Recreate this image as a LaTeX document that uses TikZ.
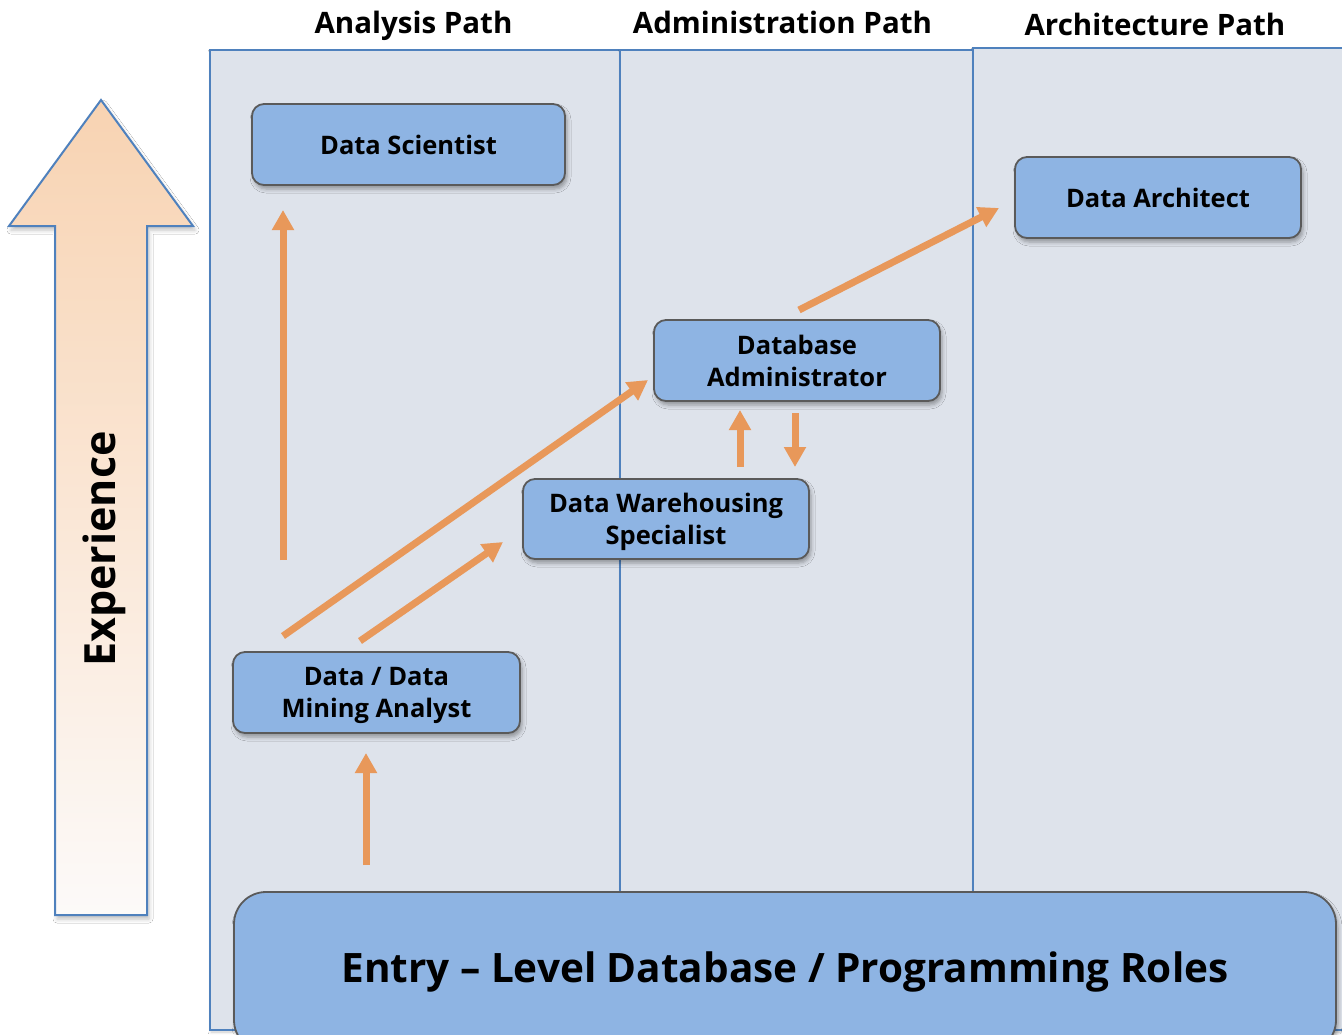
\documentclass[tikz,border=0pt]{standalone}
\usepackage{fontspec}
\setmainfont{Open Sans}
\usetikzlibrary{arrows.meta,shadows.blur}
\definecolor{colfill}{HTML}{DEE3EB}
\definecolor{colline}{HTML}{4F81BD}
\definecolor{boxfill}{HTML}{8EB4E3}
\definecolor{boxline}{HTML}{5A5A5A}
\definecolor{arrorange}{HTML}{E8985A}
\definecolor{peachtop}{HTML}{F8D3B2}
\definecolor{peachmid}{HTML}{E8C7AB}
\definecolor{peachbot}{HTML}{FCFAF9}
\begin{document}
\begin{tikzpicture}[x=1pt,y=-1pt,
  lane/.style={draw=colline,line width=1.6pt,fill=colfill,
    blur shadow={shadow xshift=1pt,shadow yshift=-2pt,shadow blur radius=3pt,shadow opacity=20}},
  role/.style={draw=boxline,line width=1.8pt,fill=boxfill,rounded corners=12pt,
    align=center,inner sep=0pt,
    font=\fontsize{25.5}{32}\selectfont\bfseries,
    blur shadow={shadow xshift=2pt,shadow yshift=-4pt,shadow blur radius=4pt,shadow opacity=35}},
  head/.style={font=\fontsize{29.5}{34}\selectfont\bfseries,anchor=base,inner sep=0pt},
  arr/.style={draw=arrorange,line width=7pt,-{Triangle[width=21pt,length=20pt]}}]
\useasboundingbox (0,0) rectangle (1342,1034);
\fill[white] (0,0) rectangle (1342,1034);

% lanes
\draw[lane] (210,50) rectangle (620,1030);
\draw[lane] (620,50) rectangle (973,1030);
\draw[lane] (973,48) rectangle (1360,1030);

% headings
\node[head] (h1) at (413.5,33) {Analysis Path};
\node[head] (h2) at (782.5,33) {Administration Path};
\node[head] (h3) at (1155,35) {Architecture Path};

% experience arrow
\path[draw=colline,line width=2pt,top color=peachtop,middle color=peachmid,bottom color=peachbot,
  blur shadow={shadow xshift=2pt,shadow yshift=-4pt,shadow blur radius=4pt,shadow opacity=25}]
  (101,100) -- (193,226) -- (147,226) -- (147,915) -- (55,915) -- (55,226) -- (9,226) -- cycle;
\node[rotate=90,font=\fontsize{43}{48}\selectfont\bfseries,inner sep=0pt] (exp) at (104,549) {Experience};

% role boxes
\node[role,minimum width=313pt,minimum height=81pt] (ds) at (408.5,144.5) {Data Scientist};
\node[role,minimum width=286pt,minimum height=81pt] (da) at (1158,197.5) {Data Architect};
\node[role,minimum width=286pt,minimum height=81pt] (dba) at (797,360.5) {Database\\Administrator};
\node[role,minimum width=286pt,minimum height=80pt] (dws) at (666,519) {Data Warehousing\\\smash{Specialist}};
\node[role,minimum width=287pt,minimum height=81pt] (dma) at (376.5,692.5) {Data / Data\\\smash{Mining Analyst}};
\node[role,rounded corners=32pt,minimum width=1102pt,minimum height=160pt,
  font=\fontsize{40.5}{46}\selectfont\bfseries] (entry) at (785,972) {Entry – Level Database / Programming Roles};

% connector ends
\coordinate (e1s) at (366,865); \coordinate (e1t) at (366,753);
\coordinate (e2s) at (283,560); \coordinate (e2t) at (283,210);
\coordinate (e3s) at (283,636); \coordinate (e3t) at (648,380);
\coordinate (e4s) at (360,641); \coordinate (e4t) at (503,542);
\coordinate (e5s) at (740,467); \coordinate (e5t) at (740,410);
\coordinate (e6s) at (795,413); \coordinate (e6t) at (795,467);
\coordinate (e7s) at (799,310); \coordinate (e7t) at (999,208);

\draw[arr] (e1s) -- (e1t);
\draw[arr] (e2s) -- (e2t);
\draw[arr] (e3s) -- (e3t);
\draw[arr] (e4s) -- (e4t);
\draw[arr] (e5s) -- (e5t);
\draw[arr] (e6s) -- (e6t);
\draw[arr] (e7s) -- (e7t);
\end{tikzpicture}
\end{document}
